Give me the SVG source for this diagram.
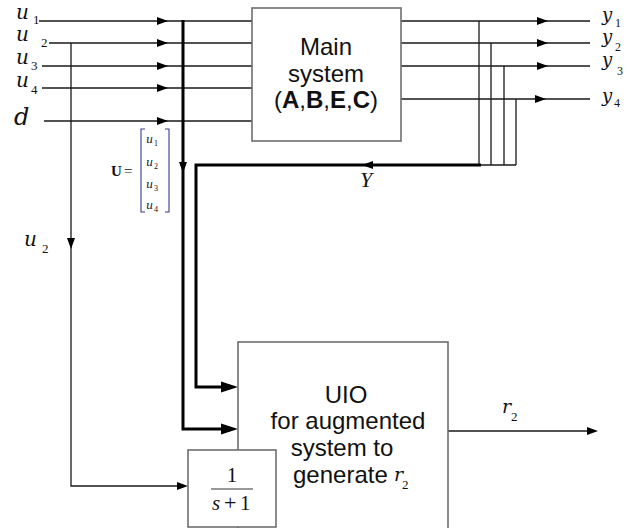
<svg xmlns="http://www.w3.org/2000/svg" xmlns:xlink="http://www.w3.org/1999/xlink" width="630" height="528" viewBox="0 0 630 528">
<style>
.ln{fill:none;stroke:#1a1a1a;stroke-width:1.3}
.bus{fill:none;stroke:#000;stroke-width:3}
.box{fill:#fff;stroke:#6e6e6e;stroke-width:1.6}
.ah{fill:#000}
.sans{font-family:"Liberation Sans",Arial,sans-serif;font-size:24px;fill:#111}
.mi{font-family:"Liberation Serif","Times New Roman",serif;font-style:italic;fill:#111}
.mr{font-family:"Liberation Serif","Times New Roman",serif;fill:#111}
.vi{font-family:"DejaVu Serif","Liberation Serif",serif;font-style:italic;fill:#111}
.brk{fill:none;stroke:#3a3a8c;stroke-width:1.1}
</style>
<defs>
<path id="a" class="ah" d="M0,0 L-11,-4 L-11,4 Z"/>
<path id="A" class="ah" d="M0,0 L-17,-5.5 L-17,5.5 Z"/>
</defs>

<g id="connectors">
  <path class="ln" d="M39,21 H252 M49,43 H252 M42,66 H252 M42,88 H252 M44,121 H252"/>
  <use xlink:href="#a" x="168" y="21"/>
  <use xlink:href="#a" x="168" y="43"/>
  <use xlink:href="#a" x="168" y="66"/>
  <use xlink:href="#a" x="168" y="88"/>
  <use xlink:href="#a" x="168" y="121"/>
  <path class="bus" d="M183,20 V429 H222"/>
  <use xlink:href="#a" transform="translate(183,173) rotate(90)"/>
  <use xlink:href="#A" x="238" y="429"/>
  <path class="ln" d="M401,21 H590 M401,43 H590 M401,66 H590 M401,99 H590"/>
  <use xlink:href="#a" x="548" y="21"/>
  <use xlink:href="#a" x="548" y="43"/>
  <use xlink:href="#a" x="548" y="66"/>
  <use xlink:href="#a" x="546" y="99"/>
  <path class="ln" d="M479,21 V165 M491,43 V165 M504,66 V165 M516,99 V165 M479,165 H516"/>
  <path class="bus" d="M481,165 H196 V387 H222"/>
  <use xlink:href="#a" transform="translate(362,165) rotate(180)"/>
  <use xlink:href="#A" x="238" y="387"/>
  <path class="ln" d="M71,43 V486 H178"/>
  <use xlink:href="#a" transform="translate(71,249) rotate(90)"/>
  <use xlink:href="#a" x="188" y="486"/>
  <path class="ln" d="M448,431 H590"/>
  <use xlink:href="#a" x="598" y="431"/>
</g>

<g id="main-system">
  <rect class="box" x="252" y="8" width="149" height="133"/>
  <text class="sans" x="326" y="55" text-anchor="middle">Main</text>
  <text class="sans" x="326" y="82" text-anchor="middle">system</text>
  <text class="sans" x="326" y="108" text-anchor="middle">(<tspan font-weight="bold">A</tspan>,<tspan font-weight="bold">B</tspan>,<tspan font-weight="bold">E</tspan>,<tspan font-weight="bold">C</tspan>)</text>
</g>

<g id="uio">
  <rect class="box" x="238" y="342" width="210" height="200"/>
  <text class="sans" x="346" y="403" text-anchor="middle">UIO</text>
  <text class="sans" x="348" y="429" text-anchor="middle">for augmented</text>
  <text class="sans" x="342" y="456" text-anchor="middle">system to</text>
  <text class="sans" x="293" y="483">generate</text>
  <text class="vi" x="394" y="481" font-size="19">r</text>
  <text class="mr" x="402" y="489" font-size="13">2</text>
</g>

<g id="filter">
  <rect class="box" x="188" y="450" width="88" height="77"/>
  <text class="mr" x="232" y="482" font-size="21" text-anchor="middle">1</text>
  <line x1="211" y1="489" x2="253" y2="489" stroke="#333" stroke-width="1.2"/>
  <text class="mi" x="212" y="510" font-size="21">s</text>
  <text class="mr" x="224" y="510" font-size="22">+</text>
  <text class="mr" x="240" y="510" font-size="21">1</text>
</g>

<g id="labels">
  <text class="vi" x="16" y="19" font-size="20">u</text><text class="mr" x="33" y="24" font-size="13">1</text>
  <text class="vi" x="16" y="41" font-size="20">u</text><text class="mr" x="41" y="47" font-size="13">2</text>
  <text class="vi" x="16" y="64" font-size="20">u</text><text class="mr" x="31" y="70" font-size="13">3</text>
  <text class="vi" x="16" y="87" font-size="20">u</text><text class="mr" x="31" y="94" font-size="13">4</text>
  <text class="vi" x="14" y="125" font-size="24">d</text>
  <text class="vi" x="24" y="246" font-size="20">u</text><text class="mr" x="42" y="253" font-size="13">2</text>

  <text class="vi" x="602" y="21" font-size="18">y</text><text class="mr" x="615" y="27" font-size="12">1</text>
  <text class="vi" x="602" y="43" font-size="18">y</text><text class="mr" x="615" y="51" font-size="12">2</text>
  <text class="vi" x="602" y="66" font-size="18">y</text><text class="mr" x="617" y="75" font-size="12">3</text>
  <text class="vi" x="602" y="102" font-size="18">y</text><text class="mr" x="614" y="107" font-size="12">4</text>

  <text class="mi" x="360" y="187" font-size="22">Y</text>
  <text class="vi" x="502" y="413" font-size="19">r</text><text class="mr" x="511" y="421" font-size="13">2</text>

  <text class="mr" x="111" y="176" font-size="15" font-weight="bold">U</text>
  <text class="mr" x="124" y="176" font-size="15">=</text>
  <path class="brk" d="M145,129 H141 V212 H145 M165,129 H169 V212 H165"/>
  <text class="vi" x="146" y="143" font-size="11">u</text><text class="mr" x="154" y="146" font-size="8">1</text>
  <text class="vi" x="146" y="166" font-size="11">u</text><text class="mr" x="154" y="169" font-size="8">2</text>
  <text class="vi" x="146" y="188" font-size="11">u</text><text class="mr" x="154" y="191" font-size="8">3</text>
  <text class="vi" x="146" y="209" font-size="11">u</text><text class="mr" x="154" y="212" font-size="8">4</text>
</g>
</svg>
